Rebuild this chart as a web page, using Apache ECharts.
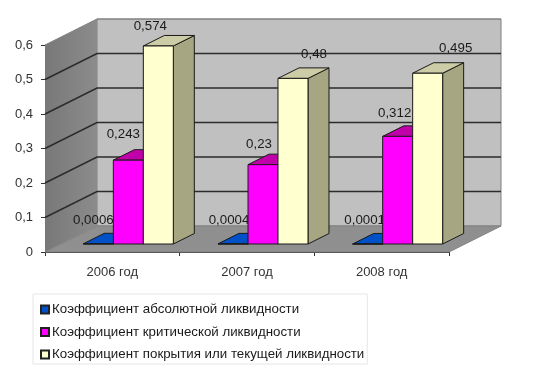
<!DOCTYPE html>
<html>
<head>
<meta charset="utf-8">
<title>Коэффициенты ликвидности</title>
<script src="https://cdn.jsdelivr.net/npm/echarts@6/dist/echarts.min.js"></script>
<style>
  html, body { margin: 0; padding: 0; background: #fff; }
  #chart { width: 559px; height: 376px; }
</style>
</head>
<body>
<div id="chart"></div>
<script>
const categories = ['2006 год', '2007 год', '2008 год']
const absolute = [0.0006, 0.0004, 0.0001]
const critical = [0.243, 0.23, 0.312]
const current = [0.574, 0.48, 0.495]
const seriesNames = [
  'Коэффициент абсолютной ликвидности',
  'Коэффициент критической ликвидности',
  'Коэффициент покрытия или текущей ликвидности'
]
const yTicks = [0, 0.1, 0.2, 0.3, 0.4, 0.5, 0.6]

const FONT = '"Liberation Sans", Arial, sans-serif'
const comma = v => String(v).replace('.', ',')

// псевдо-3D: смещение задней стенки и столбиков относительно передней плоскости
const WALL_DX = 52, WALL_DY = -26
const BAR_DX = 16, BAR_DY = -8
const DEPTH_DX = 21, DEPTH_DY = -10.5
const BAR_SHARE = 0.2227

const poly = (points, fill, stroke, lineWidth) => ({
  type: 'polygon',
  shape: { points },
  style: { fill, stroke: stroke || null, lineWidth: lineWidth || 0 }
})

const renderWalls = (params, api) => {
  const cs = params.coordSys
  const x0 = cs.x, x1 = cs.x + cs.width
  const y0 = cs.y + cs.height
  const top = cs.y
  const children = [
    // задняя стенка
    poly([[x0 + WALL_DX, top + WALL_DY], [x1 + WALL_DX, top + WALL_DY], [x1 + WALL_DX, y0 + WALL_DY], [x0 + WALL_DX, y0 + WALL_DY]], '#c0c0c0', '#808080', 1),
    // боковая стенка
    poly([[x0, top], [x0 + WALL_DX, top + WALL_DY], [x0 + WALL_DX, y0 + WALL_DY], [x0, y0]], {
      type: 'linear', x: 0, y: 0, x2: 1, y2: 0,
      colorStops: [{ offset: 0, color: '#787878' }, { offset: 1, color: '#8c8c8c' }]
    }),
    // пол
    poly([[x0, y0], [x0 + WALL_DX, y0 + WALL_DY], [x1 + WALL_DX, y0 + WALL_DY], [x1, y0]], '#8f8f8f', '#808080', 1)
  ]
  yTicks.forEach(t => {
    const y = api.coord([0, t])[1]
    if (t === 0) return
    children.push({
      type: 'polyline',
      shape: { points: [[x0, y], [x0 + WALL_DX, y + WALL_DY], [x1 + WALL_DX, y + WALL_DY]] },
      style: { fill: null, stroke: t === 0.6 ? '#808080' : '#2b2b2b', lineWidth: t === 0.6 ? 1 : 1.5 }
    })
  })
  return { type: 'group', children }
}

const makeBarRenderer = (slot, front, topFace, sideFace, labelShift) => (params, api) => {
  const cat = api.value(0)
  const val = api.value(1)
  const w = api.size([1, 0])[0] * BAR_SHARE
  const base = api.coord([cat, 0])
  const head = api.coord([cat, val])
  const xl = base[0] + BAR_DX + (slot - 0.5) * w
  const xr = xl + w
  const yb = base[1] + BAR_DY
  const yt = head[1] + BAR_DY
  const shift = labelShift[cat]
  return {
    type: 'group',
    children: [
      poly([[xr, yb], [xr + DEPTH_DX, yb + DEPTH_DY], [xr + DEPTH_DX, yt + DEPTH_DY], [xr, yt]], sideFace, '#1a1a1a', 1),
      poly([[xl, yt], [xl + DEPTH_DX, yt + DEPTH_DY], [xr + DEPTH_DX, yt + DEPTH_DY], [xr, yt]], topFace, '#1a1a1a', 1),
      poly([[xl, yb], [xr, yb], [xr, yt], [xl, yt]], front, '#1a1a1a', 1),
      {
        type: 'text',
        z2: 100,
        style: {
          x: (xl + xr) / 2 + shift[0],
          y: yt + shift[1],
          text: comma(val),
          fill: '#1a1a1a',
          font: '13.3px ' + FONT,
          align: 'center',
          verticalAlign: 'middle'
        }
      }
    ]
  }
}

const barSeries = (name, values, slot, front, topFace, sideFace, labelShift) => ({
  name,
  type: 'custom',
  coordinateSystem: 'cartesian2d',
  clip: false,
  z: 3 + slot,
  itemStyle: { color: front, borderColor: '#222', borderWidth: 1 },
  encode: { x: 0, y: 1 },
  data: values.map((v, i) => [i, v]),
  renderItem: makeBarRenderer(slot, front, topFace, sideFace, labelShift)
})

const chart = echarts.init(document.getElementById('chart'), null, { renderer: 'canvas' })

chart.setOption({
  animation: false,
  backgroundColor: '#fff',
  textStyle: { fontFamily: FONT },
  grid: { left: 45, right: 110, top: 45, bottom: 124 },
  legend: {
    orient: 'vertical',
    left: 33,
    top: 294,
    padding: [8, 3, 2, 7],
    itemGap: 7.5,
    itemWidth: 8,
    itemHeight: 8,
    icon: 'rect',
    backgroundColor: '#fff',
    borderColor: '#e6e6e6',
    borderWidth: 1,
    selectedMode: false,
    data: seriesNames,
    textStyle: { fontSize: 13.3, lineHeight: 15, color: '#1a1a1a', fontFamily: FONT, padding: [0, 0, 0, -2] }
  },
  xAxis: {
    type: 'category',
    data: categories,
    axisLine: { lineStyle: { color: '#333', width: 1 } },
    axisTick: { show: true, length: 4, lineStyle: { color: '#333' } },
    axisLabel: { color: '#333', fontSize: 13, margin: 14, fontFamily: FONT },
    splitLine: { show: false }
  },
  yAxis: {
    type: 'value',
    min: 0,
    max: 0.6,
    interval: 0.1,
    axisLine: { show: true, lineStyle: { color: '#333', width: 1 } },
    axisTick: { show: true, length: 4, lineStyle: { color: '#333' } },
    axisLabel: { color: '#333', fontSize: 13, margin: 12, fontFamily: FONT, formatter: comma },
    splitLine: { show: false }
  },
  series: [
    {
      type: 'custom',
      coordinateSystem: 'cartesian2d',
      clip: false,
      silent: true,
      z: 1,
      encode: { x: 0, y: 1 },
      data: [[0, 0]],
      renderItem: renderWalls
    },
    barSeries(seriesNames[0], absolute, -1, '#0050c8', '#0050c8', '#003a90', [[-5, -23], [-4, -24], [-3, -24]]),
    barSeries(seriesNames[1], critical, 0, '#ff00ff', '#c000a8', '#a00090', [[-5, -26], [-4, -20], [-3, -23]]),
    barSeries(seriesNames[2], current, 1, '#ffffd0', '#cccca6', '#a6a682', [[-8, -20], [21, -24], [28, -25]])
  ]
})
</script>
</body>
</html>
